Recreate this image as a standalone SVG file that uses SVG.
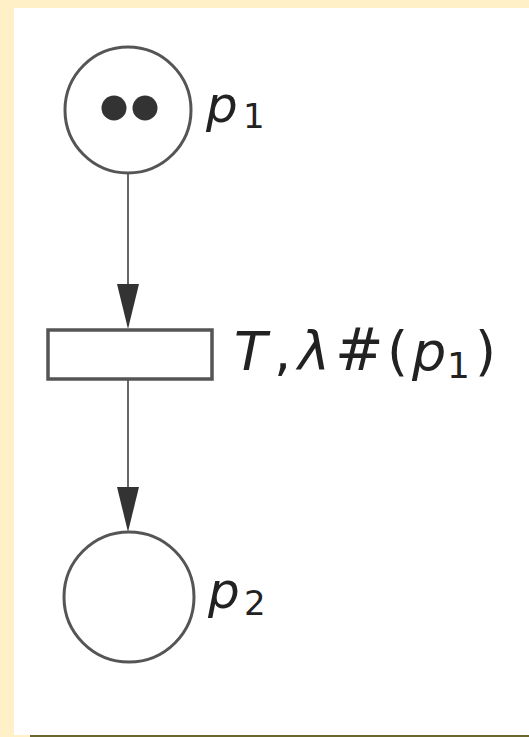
<svg xmlns="http://www.w3.org/2000/svg" width="529" height="737" viewBox="0 0 529 737">
<style>
.pl{fill:#fff;stroke:#555;stroke-width:3}
.tr{fill:#fff;stroke:#555;stroke-width:3.5}
.ar{stroke:#666;stroke-width:2;fill:none}
.tk{fill:#333}
.lb{font-family:"DejaVu Sans","Liberation Sans",sans-serif;fill:#222}
.it{font-style:italic}
</style>
<rect x="0" y="0" width="529" height="737" fill="#FFF0C8"/>
<rect x="14" y="8" width="515" height="727" fill="#fff"/>
<line x1="30" y1="736" x2="529" y2="736" stroke="#6b6530" stroke-width="2"/>
<g id="connectors">
<path class="ar" d="M128,172 L128,284"/>
<path d="M117,284 L139,284 L128,329 Z" fill="#333"/>
<path class="ar" d="M128,380 L128,487"/>
<path d="M117,487 L139,487 L128,532 Z" fill="#333"/>
</g>
<g id="p1">
<circle class="pl" cx="128" cy="110" r="63"/>
<circle class="tk" cx="114" cy="108" r="12.5"/>
<circle class="tk" cx="145" cy="108" r="12.5"/>
<text class="lb" y="122"><tspan class="it" x="206" font-size="50">p</tspan><tspan x="243" y="128" font-size="34">1</tspan></text>
</g>
<g id="T">
<rect class="tr" x="48" y="330" width="164" height="49"/>
<text class="lb" y="370" font-size="54"><tspan class="it" x="234">T</tspan><tspan x="274">,</tspan><tspan class="it" x="298">λ</tspan><tspan x="335" font-size="58">#</tspan><tspan x="387">(</tspan><tspan class="it" x="412">p</tspan><tspan x="447" y="378" font-size="36">1</tspan><tspan x="475" y="370">)</tspan></text>
</g>
<g id="p2">
<circle class="pl" cx="129" cy="597" r="65"/>
<text class="lb" y="608"><tspan class="it" x="208" font-size="50">p</tspan><tspan x="244" y="615" font-size="34">2</tspan></text>
</g>
</svg>
